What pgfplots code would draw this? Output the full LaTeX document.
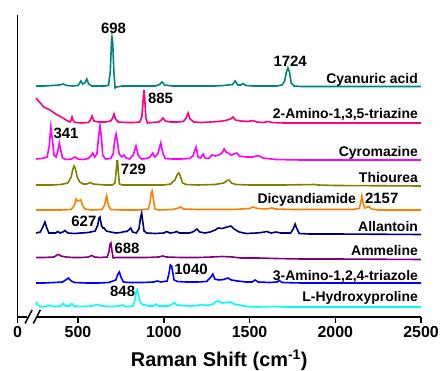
\documentclass[border=0pt]{standalone}
\usepackage{fontspec}
\setmainfont{Liberation Sans}
\usepackage{pgfplots}
\pgfplotsset{compat=1.18}
\definecolor{cTeal}{RGB}{0,130,130}
\definecolor{cPink}{RGB}{255,0,128}
\definecolor{cMag}{RGB}{255,0,255}
\definecolor{cOlive}{RGB}{128,128,0}
\definecolor{cOrange}{RGB}{255,128,0}
\definecolor{cNavy}{RGB}{0,0,128}
\definecolor{cPurple}{RGB}{128,0,128}
\definecolor{cBlue}{RGB}{0,0,255}
\definecolor{cCyan}{RGB}{0,255,255}
\begin{document}
\begin{tikzpicture}
\path[use as bounding box] (-17.5bp,-54bp) rectangle (423.5bp,317bp);
\begin{axis}[
  at={(0,0)}, anchor=south west,
  scale only axis, width=403.5bp, height=302bp,
  xmin=147, xmax=2500, ymin=0, ymax=302,
  axis x line*=bottom, axis y line*=left,
  axis line style={line width=1.6bp, black},
  ytick=\empty,
  xtick={147,500,1000,1500,2000,2500},
  xticklabels={0,500,1000,1500,2000,2500},
  tick align=outside, major tick length=6bp,
  x tick style={line width=1.5bp, black},
  /pgf/number format/assume math mode=true,
  xticklabel style={font=\bfseries\fontsize{16}{16}\selectfont},
  xlabel={Raman Shift (cm\textsuperscript{-1})},
  xlabel style={font=\bfseries\fontsize{20}{20}\selectfont, at={(axis description cs:0.5,0)}, anchor=base, yshift=-49.7bp},
  clip=false,
  every axis plot/.append style={line width=1.6bp, mark=none},
  after end axis/.code={
    \fill[white] (axis cs:203,-3) rectangle (axis cs:262,3);
    \draw[line width=1.5bp] (axis cs:191,-6.5) -- (axis cs:232,7);
    \draw[line width=1.5bp] (axis cs:239,-6.5) -- (axis cs:280,7);
  },
]
% Cyanuric acid
\addplot[cTeal] coordinates {(255,231) (300,231) (350,231.5) (390,232) (412,233) (435,231.5) (470,231) (500,231.5) (510,234) (517,236) (527,233) (540,234) (551,238) (562,233) (580,231) (620,231) (660,231) (678,232) (688,245) (695,275) (698,280) (702,275) (709,245) (716,229) (724,230) (760,231) (800,231) (850,231) (900,231) (950,231) (975,232.5) (990,235) (1005,232) (1050,231) (1100,231) (1150,231) (1200,231) (1250,231) (1300,231) (1350,231.5) (1400,232.5) (1416,236) (1432,232) (1450,232) (1463,233.5) (1478,231.5) (1520,231) (1600,231) (1660,231) (1690,232) (1705,236) (1715,245) (1724,249) (1733,245) (1743,234) (1760,231) (1800,230.5) (1900,230.5) (2000,230.5) (2100,230.5) (2200,230.5) (2300,230.5) (2400,230.5) (2500,230.5)};
% 2-Amino-1,3,5-triazine
\addplot[cPink] coordinates {(255,219) (280,214) (300,210) (337,207) (370,203) (412,199) (440,196) (453,195) (458,196) (465,200) (473,196) (485,194.5) (520,194) (560,194.5) (572,197) (582,201) (592,196) (620,195) (660,195) (690,196) (702,199) (710,203) (718,198) (735,195) (780,194.5) (830,194.5) (860,195) (872,200) (879,215) (885,227) (890,215) (896,199) (905,194) (930,194.5) (970,195) (985,197) (996,199) (1008,196) (1040,195) (1080,195) (1115,195.5) (1130,199) (1142,204) (1153,198) (1175,195) (1220,194.5) (1270,195) (1320,195.5) (1360,196.5) (1390,198) (1404,200) (1418,197) (1450,196) (1490,195.5) (1521,196.5) (1540,195) (1580,194.5) (1609,195.5) (1630,194.5) (1700,194) (1800,194) (1900,194) (2000,194) (2200,194) (2500,194)};
% Cyromazine
\addplot[cMag] coordinates {(255,158) (290,158.5) (320,160) (333,172) (341,190) (350,178) (360,162) (372,160) (382,166) (391,174) (400,166) (410,159) (430,157.5) (460,158) (482,160) (500,158) (530,157.5) (560,158.5) (575,161) (586,164) (596,160) (610,163) (620,180) (628,191) (636,180) (644,162) (660,158) (690,158.5) (705,163) (715,178) (722,183) (730,175) (740,163) (755,160) (768,162) (780,159) (800,158) (822,162) (838,171) (852,161) (870,158) (900,158.5) (920,160) (936,164) (948,160) (965,163) (982,174) (996,163) (1010,158.5) (1050,158) (1100,158) (1150,158.5) (1170,161) (1188,170) (1200,160) (1215,159) (1229,163) (1240,159) (1262,158.5) (1280,162) (1300,161) (1320,162) (1340,164) (1352,168) (1363,165) (1375,164) (1390,162) (1410,163) (1426,164) (1440,161) (1480,160) (1520,160) (1550,161.5) (1580,159) (1650,157.5) (1800,157) (2000,157) (2500,157)};
% Thiourea
\addplot[cOlive] coordinates {(255,132) (300,132) (350,132) (400,132.5) (440,134) (460,140) (470,148) (477,151) (485,148) (495,140) (510,135) (530,133) (550,133) (570,134.5) (590,133) (620,132.5) (660,132) (700,132) (715,134) (722,145) (727,156) (731,156) (735,145) (741,133) (760,132) (800,132) (900,132) (1000,132) (1040,133) (1065,137) (1080,143) (1089,144) (1098,140) (1110,134) (1130,132.5) (1200,132) (1300,132.5) (1350,134) (1370,136.5) (1381,137) (1395,134) (1420,132.5) (1500,132) (1600,132) (1700,132) (1880,132.5) (1900,132) (2000,131.5) (2500,131)};
% Dicyandiamide
\addplot[cOrange] coordinates {(255,107) (300,107) (400,107) (460,107.5) (480,112) (488,118) (497,116) (510,116.5) (517,117) (525,112) (540,108) (580,107) (640,107.5) (655,112) (667,121) (677,112) (690,107.5) (750,107) (850,107) (910,108) (920,115) (927,124) (932,126) (938,120) (948,108) (970,107) (1050,107.5) (1085,109) (1099,110) (1115,108) (1200,107.5) (1300,107.5) (1400,107.5) (1500,108.5) (1521,110) (1545,108.5) (1600,108) (1630,109) (1650,108) (1750,107.5) (1900,107.5) (2100,107.5) (2140,108.5) (2148,114) (2155,121) (2162,114) (2172,109) (2188,110) (2200,110) (2212,108) (2250,107) (2500,107)};
% Allantoin
\addplot[cNavy] coordinates {(255,84) (280,85) (295,90) (307,95) (318,89) (330,84) (350,84) (370,84) (381,85.5) (395,84) (412,85) (424,86.5) (440,84) (480,83.5) (520,84) (560,84.5) (600,86) (615,92) (622,99) (628,100) (636,92) (645,89) (652,89) (665,86) (690,85) (720,84) (750,84.5) (772,85.5) (784,85.5) (796,87) (807,89) (818,85) (840,84) (855,88) (865,100) (871,104) (877,96) (885,86) (900,84) (950,83.5) (1000,84) (1017,85.5) (1035,84) (1060,84.5) (1076,85.5) (1090,84) (1150,84) (1175,85.5) (1193,88) (1210,85) (1240,84) (1270,85) (1300,87) (1317,89) (1340,88.5) (1360,89.5) (1391,91) (1410,88) (1440,85) (1480,83.5) (1540,84) (1570,84.5) (1601,85.5) (1625,84) (1655,85) (1680,84) (1740,84) (1755,88) (1766,93) (1777,88) (1790,83.5) (1850,83) (2000,83) (2500,82.5)};
% Ammeline
\addplot[cPurple] coordinates {(255,59.5) (300,59.5) (360,60) (378,62) (389,62.5) (400,61) (430,60) (470,59.5) (520,59.5) (560,60) (580,61.5) (595,60) (630,59.5) (670,60) (680,65) (687,73) (692,74) (698,66) (705,59) (720,59.5) (800,59.5) (900,59.5) (970,60) (994,61) (1015,60) (1100,59.5) (1200,59.5) (1280,60) (1340,60.5) (1400,60) (1450,59) (1550,59) (1650,58.5) (1800,58) (2000,58) (2500,57.5)};
% 3-Amino-1,2,4-triazole
\addplot[cBlue] coordinates {(255,34) (300,34) (360,34.5) (410,35) (428,37) (444,39) (460,36) (480,34.5) (550,34) (620,34) (680,34.5) (720,37) (733,43) (741,45) (750,40) (765,35) (800,34.5) (880,34.5) (940,35) (963,36) (985,35) (1020,36) (1032,45) (1038,52) (1046,51) (1052,45) (1060,37) (1080,35.5) (1130,35) (1200,35) (1250,35.5) (1275,40) (1286,43) (1298,38) (1320,37) (1350,37.5) (1373,39) (1395,37) (1430,36) (1480,35) (1515,35) (1533,37) (1550,35) (1620,34.5) (1660,35) (1673,36.5) (1690,34.5) (1800,34) (2000,34) (2500,34)};
% L-Hydroxyproline
\addplot[cCyan] coordinates {(255,15) (265,12) (280,10.5) (310,10.5) (337,11.5) (360,10.5) (400,11) (414,13.5) (428,11) (450,11) (463,13.5) (475,11) (520,10.5) (580,11) (613,12.5) (640,11) (700,10.5) (740,11) (760,12) (780,10.5) (820,11) (832,17) (840,26) (846,27.5) (852,22) (858,18) (866,14) (880,12) (891,12.5) (910,11) (940,11) (953,13) (968,11) (1030,11) (1050,13) (1062,14.5) (1075,12) (1100,11.5) (1150,11) (1200,11.5) (1222,12.5) (1250,11.5) (1290,13) (1305,15.5) (1318,16) (1340,14) (1365,14.5) (1387,15) (1410,13) (1440,12) (1484,10.5) (1550,10) (1650,10.5) (1700,10) (1850,10) (2000,10) (2500,10)};
% curve labels
\begin{scope}[every node/.style={font=\bfseries\fontsize{14}{14}\selectfont, inner sep=0pt, anchor=base east}]
\node at (axis cs:2483,233.7) {Cyanuric acid};
\node at (axis cs:2483,198.7) {2-Amino-1,3,5-triazine};
\node at (axis cs:2483,160.3) {Cyromazine};
\node at (axis cs:2483,134.3) {Thiourea};
\node at (axis cs:2122,113.7) {Dicyandiamide};
\node at (axis cs:2483,85.3) {Allantoin};
\node at (axis cs:2483,61) {Ammeline};
\node at (axis cs:2483,37) {3-Amino-1,2,4-triazole};
\node at (axis cs:2483,15.3) {L-Hydroxyproline};
\end{scope}
% peak labels
\begin{scope}[every node/.style={font=\bfseries\fontsize{15}{15}\selectfont, inner sep=0pt, anchor=base}]
\node at (axis cs:707,283.7) {698};
\node at (axis cs:1737,250.3) {1724};
\node at (axis cs:981,213.7) {885};
\node at (axis cs:430,178.7) {341};
\node at (axis cs:823,142) {729};
\node at (axis cs:2271,113.7) {2157};
\node at (axis cs:534,90.3) {627};
\node at (axis cs:786,63.7) {688};
\node at (axis cs:1159,43) {1040};
\node at (axis cs:760,20.3) {848};
\end{scope}
\end{axis}
\end{tikzpicture}
\end{document}
